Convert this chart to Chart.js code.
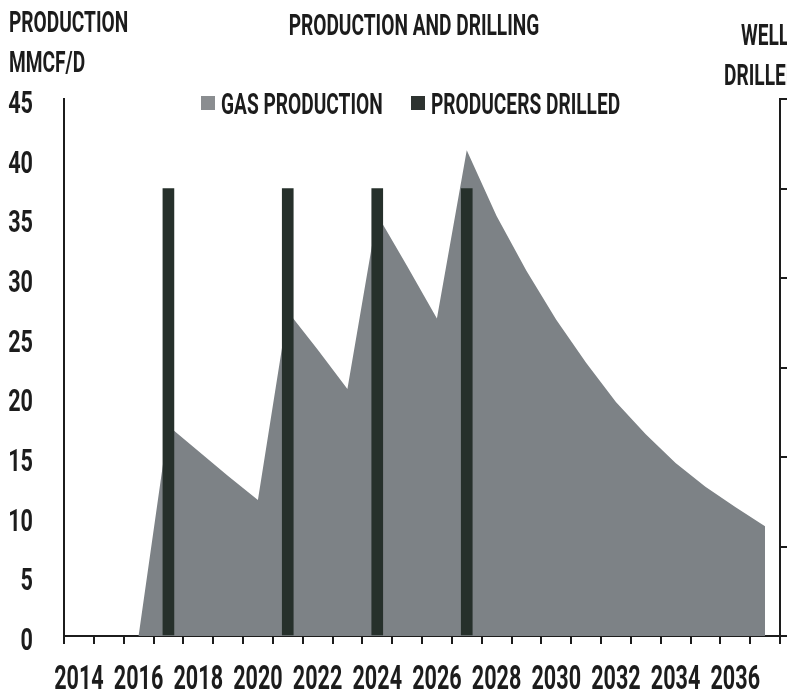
<!DOCTYPE html>
<html>
<head>
<meta charset="utf-8">
<script src="https://cdn.jsdelivr.net/npm/chart.js@4.4.1/dist/chart.umd.min.js"></script>
<style>
  html, body { margin: 0; padding: 0; background: #ffffff; overflow: hidden; }
  canvas { display: block; }
</style>
</head>
<body>
<canvas id="chart" width="787" height="693"></canvas>
<script>
// Yearly categories on the shared x axis
const years = [2014, 2015, 2016, 2017, 2018, 2019, 2020, 2021, 2022, 2023, 2024, 2025,
               2026, 2027, 2028, 2029, 2030, 2031, 2032, 2033, 2034, 2035, 2036, 2037];

// Gas production, MMCF/D (left axis)
const gasProduction = [0, 0, 0, 17.6, 15.5, 13.4, 11.4, 27.2, 24.0, 20.7, 35.3, 31.0,
                       26.6, 40.7, 35.2, 30.6, 26.5, 22.9, 19.6, 16.9, 14.5, 12.5, 10.8, 9.2];

// Producer wells drilled per year (right axis)
const producersDrilled = [null, null, null, 5, null, null, null, 5, null, null, 5, null,
                          null, 5, null, null, null, null, null, null, null, null, null, null];

// Axis tick values
const productionTicks = [0, 5, 10, 15, 20, 25, 30, 35, 40, 45];
const wellsRange = [0, 6];

const FONT = "Roboto, 'Liberation Sans', sans-serif";
const INK = '#1c1c1c';
const GAS_FILL = '#7d8286';
const BAR_FILL = '#26302b';

// Condensed display type: a regular bold face squeezed horizontally
function tallText(ctx, text, x, cy, size, align, sx, sy) {
  ctx.save();
  ctx.font = 'bold ' + size + 'px ' + FONT;
  ctx.textAlign = align;
  ctx.textBaseline = 'alphabetic';
  ctx.fillStyle = INK;
  ctx.translate(x, cy);
  ctx.scale(sx, sy);
  ctx.fillText(text, 0, size * 0.355);
  ctx.restore();
}

const LETTER = { size: 29, sx: 0.66, sy: 1.04 };
const DIGIT = { size: 30, sx: 0.72, sy: 1.03 };

function label(ctx, text, x, cy, align) {
  tallText(ctx, text, x, cy, LETTER.size, align, LETTER.sx, LETTER.sy);
}

const headings = {
  id: 'headings',
  afterDraw(chart) {
    const ctx = chart.ctx;
    const xs = chart.scales.x;
    const ys = chart.scales.y;

    // Titles
    label(ctx, 'PRODUCTION', 9, 21, 'left');
    label(ctx, 'MMCF/D', 9, 61, 'left');
    label(ctx, 'PRODUCTION AND DRILLING', 414, 24, 'center');
    label(ctx, 'WELLS', 741, 34, 'left');
    label(ctx, 'DRILLED', 724, 74, 'left');

    // Legend
    ctx.save();
    ctx.fillStyle = '#8a8d90';
    ctx.fillRect(201, 96, 14, 14);
    ctx.fillStyle = '#2e3330';
    ctx.fillRect(411, 96, 14, 14);
    ctx.restore();
    label(ctx, 'GAS PRODUCTION', 221, 103, 'left');
    label(ctx, 'PRODUCERS DRILLED', 431, 103, 'left');

    // Year labels every second category
    years.forEach((yr, i) => {
      if (yr % 2 === 0) {
        tallText(ctx, String(yr), xs.getPixelForValue(i), 677, DIGIT.size, 'center', DIGIT.sx, 1.08);
      }
    });

    // Production axis labels
    productionTicks.forEach(v => {
      tallText(ctx, String(v), 33, ys.getPixelForValue(v) + 3, DIGIT.size, 'right', DIGIT.sx, DIGIT.sy);
    });
  }
};

function build() {
  new Chart(document.getElementById('chart'), {
    type: 'bar',
    data: {
      labels: years.map(String),
      datasets: [
        {
          type: 'bar',
          label: 'PRODUCERS DRILLED',
          data: producersDrilled,
          yAxisID: 'y1',
          backgroundColor: BAR_FILL,
          borderWidth: 0,
          barThickness: 11,
          order: 1
        },
        {
          type: 'line',
          label: 'GAS PRODUCTION',
          data: gasProduction,
          yAxisID: 'y',
          fill: 'origin',
          backgroundColor: GAS_FILL,
          borderWidth: 0,
          borderColor: GAS_FILL,
          pointRadius: 0,
          tension: 0,
          order: 2
        }
      ]
    },
    options: {
      responsive: false,
      animation: false,
      events: [],
      layout: { padding: { top: 99, left: 0, right: 0, bottom: 0 } },
      plugins: {
        legend: { display: false },
        title: { display: false },
        tooltip: { enabled: false }
      },
      scales: {
        x: {
          type: 'category',
          offset: true,
          grid: {
            offset: true,
            drawOnChartArea: false,
            drawTicks: true,
            tickLength: 8,
            color: INK,
            lineWidth: 2
          },
          border: { display: true, color: INK, width: 2 },
          ticks: { display: false, autoSkip: false },
          afterFit(scale) { scale.height = 57; }
        },
        y: {
          position: 'left',
          min: productionTicks[0],
          max: productionTicks[productionTicks.length - 1],
          ticks: { display: false, stepSize: 5 },
          grid: { display: false },
          border: { display: true, color: INK, width: 2 },
          afterFit(scale) { scale.width = 64; }
        },
        y1: {
          position: 'right',
          min: wellsRange[0],
          max: wellsRange[1],
          ticks: { display: false, stepSize: 1 },
          grid: {
            drawOnChartArea: false,
            drawTicks: true,
            tickLength: 8,
            color: INK,
            lineWidth: 2
          },
          border: { display: true, color: INK, width: 2 },
          afterFit(scale) { scale.width = 7; }
        }
      }
    },
    plugins: [headings]
  });
}

if (document.fonts && document.fonts.load) {
  document.fonts.load('bold 29px ' + FONT).then(build, build);
} else {
  build();
}
</script>
</body>
</html>
